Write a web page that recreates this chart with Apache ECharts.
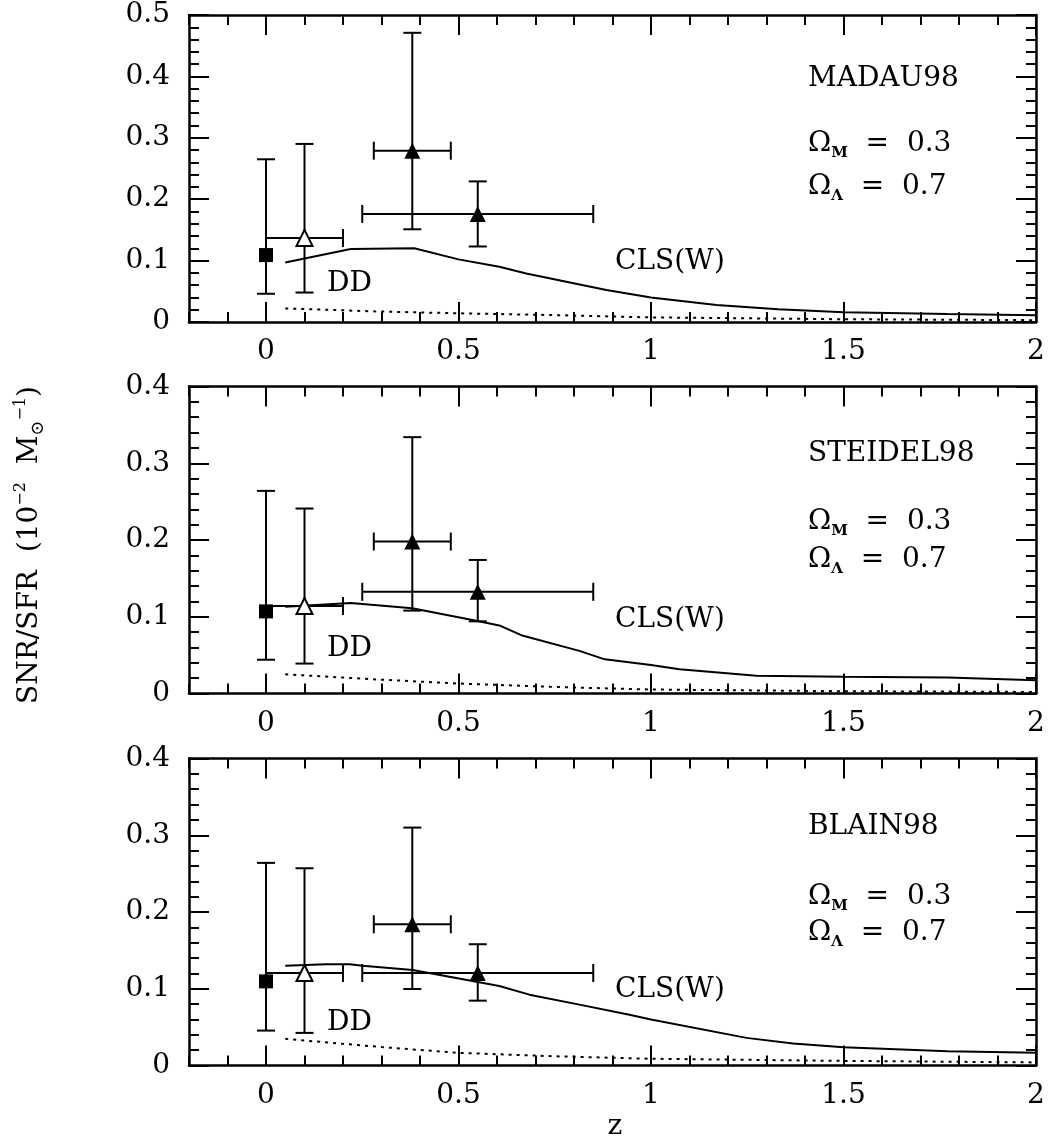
<!DOCTYPE html>
<html><head><meta charset="utf-8">
<script src="https://cdn.jsdelivr.net/npm/echarts@6/dist/echarts.min.js"></script>
<style>html,body{margin:0;padding:0;background:#fff}#c{width:1055px;height:1142px}</style>
</head><body><div id="c"></div>
<script>
const FONT = 'DejaVu Serif';
const xTickLabels = [0, 0.5, 1, 1.5, 2];
const panelNames = ['MADAU98', 'STEIDEL98', 'BLAIN98'];
const yMaxes = [0.5, 0.4, 0.4];

// CLS(W) model curves (solid)
const clsX1 = [0.05, 0.22, 0.385, 0.50, 0.606, 0.676, 0.78, 0.884, 1.0, 1.17, 1.33, 1.5, 1.77, 2.0];
const clsY1 = [0.097, 0.119, 0.120, 0.102, 0.090, 0.079, 0.0657, 0.052, 0.040, 0.0277, 0.0207, 0.0158, 0.013, 0.011];
const clsX2 = [0.05, 0.22, 0.38, 0.546, 0.606, 0.663, 0.814, 0.88, 1.0, 1.074, 1.274, 1.5, 1.77, 2.0];
const clsY2 = [0.113, 0.118, 0.111, 0.0947, 0.0887, 0.076, 0.0555, 0.0445, 0.037, 0.0317, 0.023, 0.0217, 0.0209, 0.0173];
const clsX3 = [0.05, 0.156, 0.217, 0.251, 0.381, 0.494, 0.606, 0.684, 0.814, 0.944, 1.0, 1.248, 1.369, 1.5, 1.77, 2.0];
const clsY3 = [0.130, 0.132, 0.132, 0.130, 0.1244, 0.114, 0.1036, 0.0923, 0.0793, 0.066, 0.060, 0.036, 0.0286, 0.0238, 0.0186, 0.0165];

// DD model curves (dotted)
const ddX = [0.05, 0.3, 0.5, 0.75, 1.0, 1.5, 2.0];
const ddY1 = [0.022, 0.017, 0.0142, 0.0112, 0.0075, 0.0045, 0.003];
const ddY2 = [0.025, 0.018, 0.013, 0.0085, 0.0052, 0.003, 0.002];
const ddY3 = [0.0347, 0.024, 0.0165, 0.012, 0.0088, 0.006, 0.004];

// observed points: square, open triangle, filled triangle, filled triangle
const ptX   = [0, 0.1, 0.38, 0.55];
const ptXLo = [null, 0.0, 0.28, 0.25];
const ptXHi = [null, 0.2, 0.48, 0.85];
const ptY1  = [0.109, 0.137, 0.279, 0.176];
const ptLo1 = [0.046, 0.048, 0.151, 0.123];
const ptHi1 = [0.265, 0.290, 0.471, 0.229];
const ptY2  = [0.107, 0.114, 0.198, 0.1325];
const ptLo2 = [0.044, 0.039, 0.108, 0.094];
const ptHi2 = [0.264, 0.241, 0.334, 0.174];
const ptY3  = [0.1096, 0.1205, 0.184, 0.1205];
const ptLo3 = [0.0455, 0.0425, 0.0997, 0.0845];
const ptHi3 = [0.264, 0.257, 0.310, 0.158];

const clsXs = [clsX1, clsX2, clsX3], clsYs = [clsY1, clsY2, clsY3];
const ddYs = [ddY1, ddY2, ddY3];
const ptYs = [ptY1, ptY2, ptY3], ptLos = [ptLo1, ptLo2, ptLo3], ptHis = [ptHi1, ptHi2, ptHi3];

const gridTops = [15, 386.5, 758.5];
const AX = {color: '#000', width: 2.5};
const TK = {color: '#000', width: 2};

const grids = [], xAxes = [], yAxes = [], series = [];
const fmt = v => (Math.abs(v) < 1e-9 ? '0' : String(+v.toFixed(2)));

for (let g = 0; g < 3; g++) {
  grids.push({left: 189, width: 847, top: gridTops[g], height: 307, containLabel: false});
  const base = {type: 'value', gridIndex: g, min: -0.2, max: 2, splitLine: {show: false}};
  xAxes.push(Object.assign({}, base, {position: 'bottom', interval: 0.1,
    axisLine: {show: true, onZero: false, lineStyle: AX},
    axisTick: {show: true, inside: true, length: 10, lineStyle: TK},
    axisLabel: {show: true, customValues: xTickLabels, formatter: fmt, margin: 16,
      color: '#000', fontFamily: FONT, fontSize: 28}}));
  xAxes.push(Object.assign({}, base, {position: 'bottom',
    axisLine: {show: false, onZero: false},
    axisTick: {show: true, inside: true, length: 20, lineStyle: TK, customValues: xTickLabels},
    axisLabel: {show: false}}));
  xAxes.push(Object.assign({}, base, {position: 'top', interval: 0.1,
    axisLine: {show: true, onZero: false, lineStyle: AX},
    axisTick: {show: true, inside: true, length: 10, lineStyle: TK},
    axisLabel: {show: false}}));
  xAxes.push(Object.assign({}, base, {position: 'top',
    axisLine: {show: false, onZero: false},
    axisTick: {show: true, inside: true, length: 20, lineStyle: TK, customValues: xTickLabels},
    axisLabel: {show: false}}));
  const ybase = {type: 'value', gridIndex: g, min: 0, max: yMaxes[g], interval: 0.1,
    splitLine: {show: false},
    axisLine: {show: true, onZero: false, lineStyle: AX},
    axisTick: {show: true, inside: true, length: 20, lineStyle: TK},
    minorTick: {show: true, splitNumber: 5, length: 10, lineStyle: TK}};
  yAxes.push(Object.assign({}, ybase, {position: 'left',
    axisLabel: {show: true, formatter: fmt, margin: 19, color: '#000', fontFamily: FONT, fontSize: 28}}));
  yAxes.push(Object.assign({}, ybase, {position: 'right', axisLabel: {show: false}}));

  const xi = 4 * g, yi = 2 * g;
  series.push({type: 'line', xAxisIndex: xi, yAxisIndex: yi, showSymbol: false, symbol: 'none',
    data: clsXs[g].map((x, i) => [x, clsYs[g][i]]),
    lineStyle: {color: '#000', width: 2}, z: 2});
  series.push({type: 'line', xAxisIndex: xi, yAxisIndex: yi, showSymbol: false, symbol: 'none',
    data: ddX.map((x, i) => [x, ddYs[g][i]]),
    lineStyle: {color: '#000', width: 2, type: [3, 5]}, z: 2});
  series.push({type: 'custom', xAxisIndex: xi, yAxisIndex: yi, z: 3,
    data: ptX.map((x, i) => [x, ptYs[g][i], ptXLo[i] == null ? '-' : ptXLo[i], ptXHi[i] == null ? '-' : ptXHi[i], ptLos[g][i], ptHis[g][i]]),
    renderItem: function (params, api) {
      const x = api.value(0), y = api.value(1), xlo = api.value(2), xhi = api.value(3), ylo = api.value(4), yhi = api.value(5);
      const st = {stroke: '#000', lineWidth: 2, fill: null};
      const cap = 9;
      const ch = [];
      const a = api.coord([x, ylo]), b = api.coord([x, yhi]);
      ch.push({type: 'line', shape: {x1: a[0], y1: a[1], x2: b[0], y2: b[1]}, style: st});
      ch.push({type: 'line', shape: {x1: a[0] - cap, y1: a[1], x2: a[0] + cap, y2: a[1]}, style: st});
      ch.push({type: 'line', shape: {x1: b[0] - cap, y1: b[1], x2: b[0] + cap, y2: b[1]}, style: st});
      if (isFinite(xlo) && isFinite(xhi)) {
        const c = api.coord([xlo, y]), d = api.coord([xhi, y]);
        ch.push({type: 'line', shape: {x1: c[0], y1: c[1], x2: d[0], y2: d[1]}, style: st});
        ch.push({type: 'line', shape: {x1: c[0], y1: c[1] - cap, x2: c[0], y2: c[1] + cap}, style: st});
        ch.push({type: 'line', shape: {x1: d[0], y1: d[1] - cap, x2: d[0], y2: d[1] + cap}, style: st});
      }
      return {type: 'group', children: ch};
    }});
  series.push({type: 'scatter', xAxisIndex: xi, yAxisIndex: yi, z: 5, symbol: 'rect', symbolSize: 14,
    data: [[ptX[0], ptYs[g][0]]], itemStyle: {color: '#000', opacity: 1}});
  series.push({type: 'scatter', xAxisIndex: xi, yAxisIndex: yi, z: 5, symbol: 'triangle', symbolSize: 16,
    data: [[ptX[1], ptYs[g][1]]], itemStyle: {color: '#fff', borderColor: '#000', borderWidth: 2, opacity: 1}});
  series.push({type: 'scatter', xAxisIndex: xi, yAxisIndex: yi, z: 5, symbol: 'triangle', symbolSize: 16,
    data: [[ptX[2], ptYs[g][2]], [ptX[3], ptYs[g][3]]], itemStyle: {color: '#000', opacity: 1}});
}

const txt = (x, y, text, extra) => ({type: 'text', x: x, y: y, silent: true,
  style: Object.assign({text: text, fill: '#000', font: '28px "' + FONT + '"', textVerticalAlign: 'middle', textAlign: 'left'}, extra || {})});
const omegaRich = {
  n: {fontFamily: FONT, fontSize: 28, lineHeight: 34, color: '#000'},
  s: {fontFamily: FONT, fontSize: 15, lineHeight: 34, color: '#000', verticalAlign: 'bottom', fontWeight: 'bold'}
};
const omega = (x, y, sub, val) => ({type: 'text', x: x, y: y, silent: true,
  style: {text: '{n|Ω}{s|' + sub + '}{n|  =  ' + val + '}', rich: omegaRich, textVerticalAlign: 'middle', textAlign: 'left'}});

const labelPos = [
  {name: 79, om: 144, ol: 187, cls: 262, dd: 284},
  {name: 454, om: 522, ol: 560, cls: 620, dd: 649},
  {name: 827, om: 897, ol: 933, cls: 990, dd: 1023}
];
const graphics = [];
for (let g = 0; g < 3; g++) {
  const p = labelPos[g];
  graphics.push(txt(808, p.name, panelNames[g]));
  graphics.push(omega(808, p.om, 'M', '0.3'));
  graphics.push(omega(808, p.ol, 'Λ', '0.7'));
  graphics.push(txt(615, p.cls, 'CLS(W)'));
  graphics.push(txt(327, p.dd, 'DD'));
}
graphics.push(txt(615, 1127, 'z', {textAlign: 'center'}));
graphics.push({type: 'text', x: 30, y: 545, rotation: Math.PI / 2, silent: true,
  style: {text: '{n|SNR/SFR  (10}{sup|−2}{n|  M}{sub|⊙}{sup|−1}{n|)}',
    textAlign: 'center', textVerticalAlign: 'middle',
    rich: {
      n: {fontFamily: FONT, fontSize: 28, lineHeight: 34, color: '#000'},
      sup: {fontFamily: FONT, fontSize: 16, lineHeight: 34, color: '#000', verticalAlign: 'top'},
      sub: {fontFamily: FONT, fontSize: 18, lineHeight: 34, color: '#000', verticalAlign: 'bottom'}
    }}});

const chart = echarts.init(document.getElementById('c'), null, {renderer: 'canvas'});
chart.setOption({
  animation: false,
  backgroundColor: '#fff',
  grid: grids, xAxis: xAxes, yAxis: yAxes, series: series, graphic: graphics
});
</script></body></html>
